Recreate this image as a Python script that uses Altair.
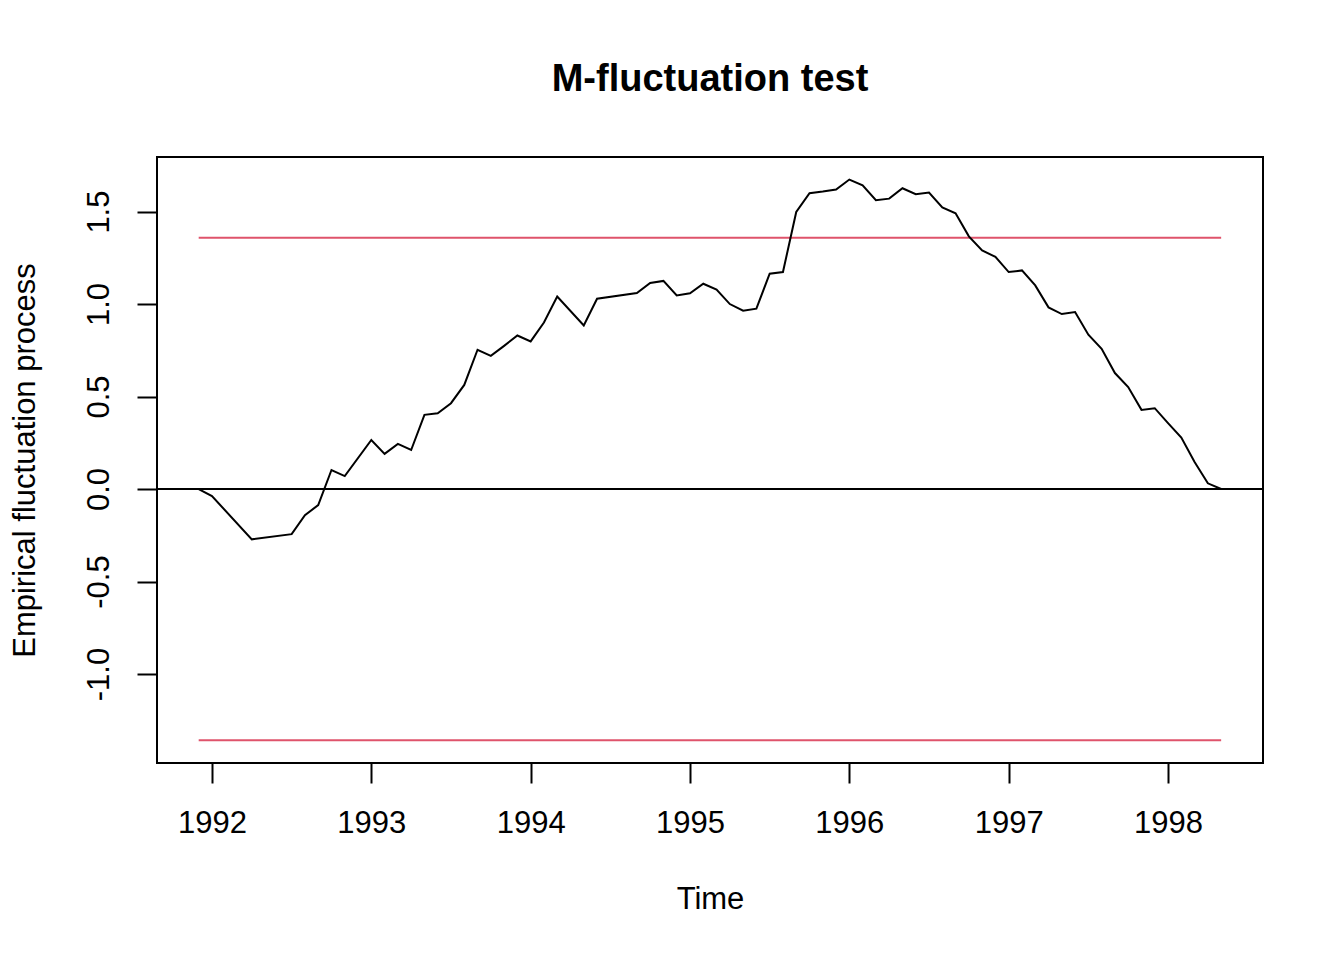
import altair as alt
import pandas as pd

# month offsets from Jan 1992 (time = 1992 + m/12) and process values
months = [-1, 0, 3, 6, 7, 8, 9, 10, 12, 13, 14, 15, 16, 17, 18, 19, 20, 21, 22, 23,
          24, 25, 26, 28, 29, 32, 33, 34, 35, 36, 37, 38, 39, 40, 41, 42, 43, 44, 45,
          46, 47, 48, 49, 50, 51, 52, 53, 54, 55, 56, 57, 58, 59, 60, 61, 62, 63, 64,
          65, 66, 67, 68, 69, 70, 71, 72, 73, 74, 75, 76]
values = [0.0, -0.038, -0.272, -0.244, -0.141, -0.087, 0.103, 0.070, 0.265, 0.190,
          0.244, 0.211, 0.401, 0.410, 0.464, 0.563, 0.753, 0.720, 0.774, 0.830,
          0.798, 0.900, 1.041, 0.884, 1.029, 1.060, 1.114, 1.125, 1.047, 1.058,
          1.110, 1.078, 1.000, 0.964, 0.975, 1.164, 1.173, 1.498, 1.599, 1.608,
          1.619, 1.673, 1.642, 1.561, 1.570, 1.626, 1.594, 1.603, 1.523, 1.491,
          1.366, 1.290, 1.255, 1.173, 1.182, 1.101, 0.982, 0.946, 0.957, 0.834,
          0.758, 0.627, 0.551, 0.428, 0.437, 0.356, 0.278, 0.146, 0.031, 0.0]
boundary = 1.358
x_ticks = [1992, 1993, 1994, 1995, 1996, 1997, 1998]
y_ticks = [-1.0, -0.5, 0.0, 0.5, 1.0, 1.5]

times = [1992 + m / 12 for m in months]
df_line = pd.DataFrame({"t": times, "v": values})
df_zero = pd.DataFrame({"v": [0.0]})
df_bound = pd.DataFrame({"t": [times[0], times[0]], "t2": [times[-1], times[-1]],
                         "v": [boundary, -boundary]})

FONT = "Liberation Sans"
xscale = alt.Scale(domain=[1991.655, 1998.596], nice=False, zero=False)
yscale = alt.Scale(domain=[-1.481, 1.795], nice=False, zero=False)

xaxis = alt.Axis(values=x_ticks, format="d", title="Time", grid=False, domain=False,
                 tickSize=20, tickWidth=2, tickColor="black", labelFontSize=31,
                 labelFont=FONT, labelColor="black", labelBaseline="alphabetic",
                 labelPadding=49, labelFlush=False, labelOverlap=False,
                 titleFont=FONT, titleFontSize=31, titleFontWeight="normal",
                 titleColor="black", titleBaseline="alphabetic", titleY=145)
yaxis = alt.Axis(values=y_ticks, title="Empirical fluctuation process", grid=False,
                 domain=False, tickSize=20, tickWidth=2, tickColor="black",
                 labelExpr="datum.value < 0 ? '-' + format(-datum.value, '.1f') : format(datum.value, '.1f')",
                 labelFontSize=31, labelFont=FONT, labelColor="black", labelAngle=270,
                 labelAlign="center", labelBaseline="alphabetic", labelPadding=29,
                 labelFlush=False, labelOverlap=False,
                 titleFont=FONT, titleFontSize=31, titleFontWeight="normal",
                 titleColor="black", titleAngle=270, titleBaseline="alphabetic",
                 titleX=-123)

zero = alt.Chart(df_zero).mark_rule(color="black", strokeWidth=2).encode(
    y=alt.Y("v:Q", scale=yscale)
)
bounds = alt.Chart(df_bound).mark_rule(color="#DF536B", strokeWidth=2).encode(
    x=alt.X("t:Q", scale=xscale), x2="t2:Q", y=alt.Y("v:Q", scale=yscale)
)
line = alt.Chart(df_line).mark_line(color="black", strokeWidth=2).encode(
    x=alt.X("t:Q", scale=xscale, axis=xaxis),
    y=alt.Y("v:Q", scale=yscale, axis=yaxis),
)

chart = alt.layer(zero, bounds, line).properties(
    width=1106, height=606,
    autosize=alt.AutoSizeParams(type="none"),
    padding={"left": 149, "top": 149, "right": 73, "bottom": 189},
    title=alt.TitleParams("M-fluctuation test", font=FONT, fontSize=38,
                          fontWeight="bold", color="black", anchor="middle",
                          frame="group", baseline="alphabetic", offset=28),
).configure(background="white").configure_view(stroke="black", strokeWidth=2)

chart.save("out.html", embed_options={"renderer": "svg", "actions": False})
